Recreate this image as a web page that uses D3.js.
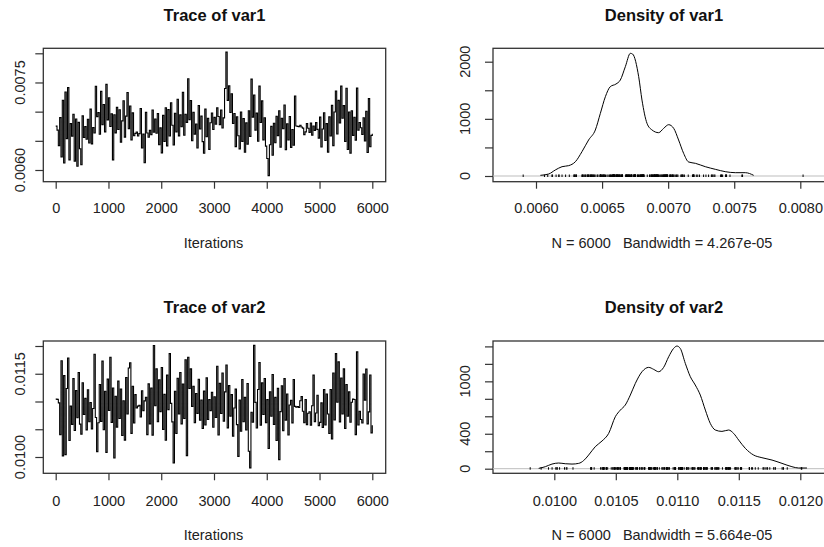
<!DOCTYPE html>
<html>
<head>
<meta charset="utf-8">
<script src="https://cdn.jsdelivr.net/npm/d3@7"></script>
<style>
body { margin: 0; background: #fff; }
svg { display: block; font-family: "Liberation Sans", Arial, sans-serif; }
</style>
</head>
<body>
<svg width="824" height="547"></svg>
<script>
const iterations = d3.range(0, 6001, 25);

const var1Trace = [
  0.006752,0.006683,0.006418,0.006897,0.006224,0.007196,0.006121,0.007338,
  0.006537,0.007412,0.006173,0.006794,0.006581,0.006956,0.006152,0.006873,
  0.006064,0.006817,0.006365,0.006089,0.006928,0.006557,0.006743,0.006526,
  0.006871,0.006462,0.007043,0.006447,0.006726,0.006634,0.007436,0.006915,
  0.006984,0.006612,0.007347,0.006776,0.007123,0.006654,0.007468,0.006859,
  0.007237,0.006746,0.006965,0.006174,0.006948,0.006637,0.007074,0.006695,
  0.007032,0.006478,0.006842,0.007187,0.006563,0.006924,0.007327,0.006708,
  0.007096,0.006516,0.006979,0.006588,0.006627,0.006651,0.006582,0.006623,
  0.007054,0.006377,0.006615,0.006124,0.006987,0.006634,0.006562,0.006681,
  0.006606,0.007028,0.006647,0.006873,0.006629,0.006967,0.006432,0.006722,
  0.006293,0.006936,0.006488,0.007067,0.006413,0.007034,0.006583,0.007152,
  0.006767,0.006429,0.006973,0.006654,0.007213,0.006585,0.006944,0.006742,
  0.007332,0.006596,0.006955,0.006817,0.007563,0.006863,0.007191,0.006502,
  0.006991,0.006614,0.006788,0.006376,0.007106,0.006702,0.006923,0.006487,
  0.006287,0.007043,0.006571,0.006884,0.006354,0.006809,0.006976,0.006693,
  0.006902,0.006785,0.007064,0.006917,0.006778,0.007028,0.006721,0.006894,
  0.007397,0.008021,0.007194,0.007442,0.006986,0.007306,0.006797,0.006968,
  0.006401,0.006912,0.006587,0.006362,0.006995,0.006491,0.006882,0.006303,
  0.006808,0.006444,0.007016,0.006576,0.007558,0.006907,0.007286,0.006684,
  0.006975,0.006492,0.007437,0.006813,0.007184,0.006516,0.006896,0.006409,
  0.006197,0.005903,0.006434,0.006748,0.006252,0.006802,0.006467,0.006921,
  0.006589,0.007016,0.006392,0.006887,0.006706,0.007114,0.006347,0.006793,
  0.006514,0.006918,0.006388,0.006695,0.006423,0.007268,0.006753,0.006747,
  0.006741,0.006768,0.006736,0.006718,0.006607,0.006653,0.006797,0.006716,
  0.006644,0.006806,0.006598,0.006754,0.006679,0.006812,0.006697,0.006546,
  0.006907,0.006393,0.006703,0.006982,0.006506,0.006794,0.006306,0.006911,
  0.006583,0.007107,0.006418,0.006993,0.007354,0.006617,0.007193,0.006806,
  0.007438,0.006887,0.007103,0.006488,0.007402,0.006352,0.006994,0.006289,
  0.007016,0.006593,0.006905,0.006512,0.007404,0.006684,0.006815,0.006724,
  0.006608,0.006896,0.006497,0.007008,0.006301,0.007224,0.006398,0.006594,
  0.006621
];

const var2Trace = [
  0.011043,0.011038,0.010976,0.010402,0.011734,0.010021,0.011467,0.010043,
  0.011234,0.011783,0.010296,0.010917,0.010588,0.011412,0.010477,0.011196,
  0.010706,0.011522,0.010593,0.010412,0.011338,0.010766,0.011056,0.010488,
  0.011213,0.010634,0.010982,0.010507,0.010874,0.011852,0.010713,0.010097,
  0.010618,0.011307,0.010642,0.011728,0.010492,0.011186,0.010083,0.011404,
  0.010837,0.011796,0.010623,0.011242,0.009982,0.011094,0.010538,0.011367,
  0.010694,0.011226,0.010387,0.011013,0.010304,0.011433,0.010776,0.011604,
  0.011697,0.010426,0.011276,0.010613,0.011124,0.010883,0.010917,0.010932,
  0.010722,0.011193,0.010836,0.011012,0.011076,0.010403,0.011317,0.010596,
  0.011244,0.010394,0.012008,0.010924,0.011587,0.010636,0.011393,0.010817,
  0.011612,0.010497,0.011128,0.010303,0.011476,0.010854,0.011862,0.010966,
  0.010633,0.009893,0.011186,0.010424,0.011418,0.010776,0.011523,0.010597,
  0.011316,0.010694,0.011752,0.010024,0.011796,0.011234,0.011587,0.010913,
  0.011276,0.010617,0.011144,0.010786,0.011402,0.010663,0.011026,0.010514,
  0.011187,0.010576,0.011426,0.010677,0.011033,0.010836,0.011164,0.010537,
  0.011086,0.010713,0.011634,0.010397,0.011326,0.010784,0.011514,0.010646,
  0.011173,0.011658,0.010524,0.011286,0.010737,0.011124,0.010376,0.010884,
  0.011223,0.010584,0.010012,0.011026,0.010463,0.011397,0.010634,0.011076,
  0.010487,0.011324,0.010103,0.009804,0.010806,0.010627,0.012012,0.010984,
  0.010523,0.011216,0.011703,0.010574,0.011336,0.010767,0.011414,0.010616,
  0.011034,0.010152,0.011176,0.010733,0.011487,0.010586,0.011074,0.010297,
  0.011236,0.009953,0.010817,0.011284,0.010476,0.011413,0.010664,0.011136,
  0.010397,0.010936,0.011023,0.010614,0.011397,0.010913,0.010896,0.010908,
  0.010893,0.011014,0.011087,0.010824,0.010616,0.011036,0.010583,0.010787,
  0.010816,0.010574,0.010923,0.011476,0.010637,0.010794,0.011113,0.010566,
  0.010624,0.010976,0.010533,0.011214,0.010577,0.011136,0.010774,0.010423,
  0.011216,0.010324,0.011513,0.010667,0.011862,0.010986,0.011714,0.010633,
  0.011424,0.010776,0.011587,0.010513,0.011306,0.010734,0.011174,0.010627,
  0.010986,0.011043,0.011037,0.010404,0.011894,0.010576,0.010824,0.010677,
  0.010613,0.011496,0.011024,0.011584,0.010596,0.010813,0.011477,0.010434,
  0.010572
];

// density curves (x = value, y = density)
const var1DensX = [0.006033,0.006096,0.006146,0.006197,0.006247,0.006298,0.006348,0.006398,0.006449,0.006487,
  0.006525,0.006562,0.006605,0.006638,0.006676,0.006714,0.006731,0.006777,0.006802,0.006840,
  0.006878,0.006928,0.006966,0.007004,0.007042,0.007079,0.007117,0.007155,0.007206,0.007281,
  0.007357,0.007432,0.007508,0.007584,0.007647];
const var1DensY = [12,35,105,163,181,250,426,630,805,1096,
  1388,1563,1609,1679,1913,2146,2134,1738,1329,921,
  805,758,834,898,834,630,397,245,222,163,
  117,76,58,58,12];

const var2DensX = [0.009873,0.009927,0.009981,0.010035,0.010089,0.010144,0.010198,0.010238,0.010279,0.010333,
  0.010388,0.010442,0.010496,0.010537,0.010577,0.010618,0.010659,0.010713,0.010767,0.010808,
  0.010848,0.010889,0.010930,0.010970,0.010997,0.011024,0.011065,0.011106,0.011146,0.011187,
  0.011228,0.011268,0.011309,0.011363,0.011417,0.011458,0.011499,0.011553,0.011621,0.011688,
  0.011770,0.011851,0.011932,0.011986,0.012054];
const var2DensY = [4,23,53,65,57,53,61,92,156,252,
  317,404,595,671,729,843,977,1110,1160,1137,
  1110,1160,1282,1377,1404,1377,1206,1053,958,843,
  671,519,443,427,443,404,328,233,156,126,
  99,61,23,8,8];

// ticks and labels
const traceXTicks = [0, 1000, 2000, 3000, 4000, 5000, 6000];
const var1TraceYTicks = [0.0060, 0.0065, 0.0070, 0.0075, 0.0080];
const var1TraceYLabels = ["0.0060", "0.0075"];
const var2TraceYTicks = [0.0100, 0.0105, 0.0110, 0.0115, 0.0120];
const var2TraceYLabels = ["0.0100", "0.0115"];
const var1DensXTicks = [0.0060, 0.0065, 0.0070, 0.0075, 0.0080];
const var1DensYTicks = [0, 500, 1000, 1500, 2000];
const var1DensYLabels = [0, 1000, 2000];
const var2DensXTicks = [0.0100, 0.0105, 0.0110, 0.0115, 0.0120];
const var2DensYTicks = [0, 200, 400, 600, 800, 1000, 1200, 1400];
const var2DensYLabels = [0, 400, 1000];

const svg = d3.select("svg");
const axisColor = "#333";
const fontSize = 14.5;

function drawPanel(o) {
  const g = svg.append("g");
  const [bx0, by0, bx1, by1] = o.box;

  // title
  g.append("text")
    .attr("x", (bx0 + bx1) / 2)
    .attr("y", o.titleY)
    .attr("text-anchor", "middle")
    .style("font-weight", "bold")
    .style("font-size", "16.5px")
    .attr("fill", "#111")
    .text(o.title);

  // x axis
  const xa = g.append("g")
    .attr("transform", `translate(0,${by1})`)
    .call(d3.axisBottom(o.x).tickValues(o.xTicks).tickSize(7).tickFormat(o.xFmt));
  xa.select(".domain").remove();
  xa.attr("color", axisColor).attr("font-size", null).attr("font-family", null);
  xa.selectAll("line").attr("stroke-width", 1.2);
  xa.selectAll("text")
    .attr("dy", null)
    .attr("y", o.xLabelY - by1)
    .attr("fill", "#222")
    .style("font-size", fontSize + "px");

  // y axis ticks
  const ya = g.append("g")
    .attr("transform", `translate(${bx0},0)`)
    .call(d3.axisLeft(o.y).tickValues(o.yTicks).tickSize(8).tickFormat(""));
  ya.select(".domain").remove();
  ya.attr("color", axisColor);
  ya.selectAll("line").attr("stroke-width", 1.2);

  // y labels, rotated like R
  g.selectAll("text.ylab")
    .data(o.yLabels)
    .join("text")
    .attr("class", "ylab")
    .attr("transform", d => `translate(${o.yLabelX},${o.y(+d)}) rotate(-90)`)
    .attr("text-anchor", "middle")
    .attr("fill", "#222")
    .style("font-size", fontSize + "px")
    .text(d => d);

  // x axis title / sub text
  g.append("text")
    .attr("x", o.subX)
    .attr("y", o.subY)
    .attr("text-anchor", "middle")
    .attr("fill", "#222")
    .style("font-size", fontSize + "px")
    .text(o.sub);

  // box
  g.append("rect")
    .attr("x", bx0).attr("y", by0)
    .attr("width", bx1 - bx0).attr("height", by1 - by0)
    .attr("fill", "none")
    .attr("stroke", axisColor)
    .attr("stroke-width", 1.3);

  return g;
}

function tracePanel(opt, values) {
  const x = d3.scaleLinear().domain([0, 6000]).range([55.7, 372.3]);
  const y = d3.scaleLinear().domain(opt.yDomain).range(opt.yRange);
  const g = drawPanel({
    box: opt.box, title: opt.title, titleY: opt.titleY,
    x: x, xTicks: traceXTicks, xFmt: d3.format("d"), xLabelY: opt.xLabelY,
    y: y, yTicks: opt.yTicks, yLabels: opt.yLabels, yLabelX: 24.5,
    sub: "Iterations", subX: 213.5, subY: opt.subY
  });
  const line = d3.line()
    .x((d, i) => x(iterations[i]))
    .y(d => y(d))
    .curve(d3.curveStepAfter);
  g.append("path")
    .datum(values)
    .attr("fill", "none")
    .attr("stroke", "#000")
    .attr("stroke-width", 1.1)
    .attr("d", line);
}

function densityPanel(opt, dx, dy, obs) {
  const x = d3.scaleLinear().domain(opt.xDomain).range([opt.xRange[0], opt.xRange[1]]);
  const y = d3.scaleLinear().domain(opt.yDomain).range(opt.yRange);
  const g = drawPanel({
    box: opt.box, title: opt.title, titleY: opt.titleY,
    x: x, xTicks: opt.xTicks, xFmt: d3.format(".4f"), xLabelY: opt.xLabelY,
    y: y, yTicks: opt.yTicks, yLabels: opt.yLabels, yLabelX: 469.5,
    sub: opt.sub, subX: 662, subY: opt.subY
  });
  // zero line
  g.append("line")
    .attr("x1", opt.box[0]).attr("x2", opt.box[2])
    .attr("y1", y(0)).attr("y2", y(0))
    .attr("stroke", "#bdbdbd")
    .attr("stroke-width", 1);
  // observations
  g.selectAll("line.obs")
    .data(obs)
    .join("line")
    .attr("class", "obs")
    .attr("x1", d => x(d)).attr("x2", d => x(d))
    .attr("y1", y(0) + 1).attr("y2", y(0) - 1.5)
    .attr("stroke", "#000")
    .attr("stroke-width", 1);
  const pts = dx.map((v, i) => [v, dy[i]]);
  g.append("path")
    .datum(pts)
    .attr("fill", "none")
    .attr("stroke", "#000")
    .attr("stroke-width", 1)
    .attr("d", d3.line().x(d => x(d[0])).y(d => y(d[1])).curve(d3.curveMonotoneX));
}

tracePanel({
  box: [43.3, 48.3, 385.7, 181.7], title: "Trace of var1", titleY: 21,
  xLabelY: 213.5, subY: 248,
  yDomain: [0.0060, 0.0080], yRange: [170, 53.3],
  yTicks: var1TraceYTicks, yLabels: var1TraceYLabels
}, var1Trace);

densityPanel({
  box: [493, 48.3, 835, 181.7], title: "Density of var1", titleY: 21,
  xLabelY: 213.5, subY: 248,
  xDomain: [0.0060, 0.0080], xRange: [536, 800.3], xTicks: var1DensXTicks,
  yDomain: [0, 2000], yRange: [176, 61.7],
  yTicks: var1DensYTicks, yLabels: var1DensYLabels,
  sub: "N = 6000\u00a0\u00a0\u00a0Bandwidth = 4.267e-05"
}, var1DensX, var1DensY, var1Trace);

tracePanel({
  box: [43.3, 341, 385.7, 473.3], title: "Trace of var2", titleY: 312.7,
  xLabelY: 505.9, subY: 540,
  yDomain: [0.0100, 0.0120], yRange: [457, 346],
  yTicks: var2TraceYTicks, yLabels: var2TraceYLabels
}, var2Trace);

densityPanel({
  box: [493, 341, 835, 473.3], title: "Density of var2", titleY: 312.7,
  xLabelY: 505.9, subY: 540,
  xDomain: [0.0100, 0.0120], xRange: [554.3, 800.3], xTicks: var2DensXTicks,
  yDomain: [0, 1400], yRange: [468.7, 346.4],
  yTicks: var2DensYTicks, yLabels: var2DensYLabels,
  sub: "N = 6000\u00a0\u00a0\u00a0Bandwidth = 5.664e-05"
}, var2DensX, var2DensY, var2Trace);
</script>
</body>
</html>
